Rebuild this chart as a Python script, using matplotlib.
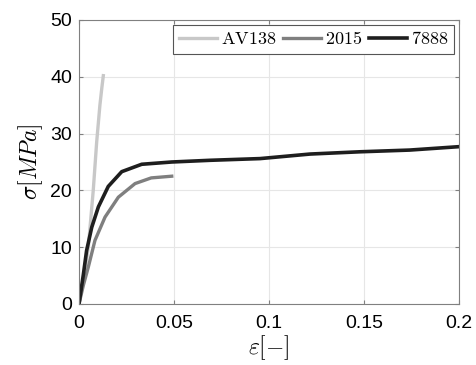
import matplotlib.pyplot as plt
import numpy as np

plt.rcParams['mathtext.fontset'] = 'cm'
plt.rcParams['font.family'] = 'Liberation Sans'

# Curvas tensión-deformación
eps_av138 = [0, 0.0025, 0.0049, 0.0075, 0.0093, 0.0110, 0.0120, 0.0128]
sig_av138 = [0, 4.5, 10.0, 20.0, 28.5, 35.0, 38.0, 40.2]

eps_2015 = [0, 0.0023, 0.0049, 0.0084, 0.0137, 0.0207, 0.0295, 0.0380, 0.0488]
sig_2015 = [0, 3.3, 6.5, 11.2, 15.3, 18.8, 21.2, 22.2, 22.5]

eps_7888 = [0, 0.0023, 0.0040, 0.0067, 0.0102, 0.0154, 0.0225, 0.0330, 0.0488,
            0.069, 0.0953, 0.1216, 0.148, 0.174, 0.2]
sig_7888 = [0, 5.2, 9.4, 13.5, 17.1, 20.7, 23.3, 24.6, 25.0,
            25.3, 25.6, 26.4, 26.8, 27.1, 27.7]

fig = plt.figure(figsize=(4.76, 3.65), dpi=100)
ax = fig.add_axes([79 / 476, 1 - 304 / 365, 380 / 476, 284 / 365])

ax.plot(eps_av138, sig_av138, color='#c8c8c8', linewidth=2.4, label=r'$\mathrm{AV138}$')
ax.plot(eps_2015, sig_2015, color='#7f7f7f', linewidth=2.4, label=r'$\mathrm{2015}$')
ax.plot(eps_7888, sig_7888, color='#1e1e1e', linewidth=2.6, label=r'$\mathrm{7888}$')

ax.set_xlim(0, 0.2)
ax.set_ylim(0, 50)
ax.set_xticks([0, 0.05, 0.1, 0.15, 0.2])
ax.set_xticklabels(['0', '0.05', '0.1', '0.15', '0.2'])
ax.set_yticks(np.arange(0, 51, 10))
ax.tick_params(direction='in', length=3, labelsize=14, color='#808080',
               top=True, right=True)
ax.tick_params(axis='x', pad=8)
ax.tick_params(axis='y', pad=5)
for s in ax.spines.values():
    s.set_color('#808080')
    s.set_linewidth(0.8)
ax.grid(True, color='#e6e6e6', linewidth=0.8)
ax.set_axisbelow(True)

ax.set_xlabel(r'$\varepsilon[-]$', fontsize=17, labelpad=1)
ax.set_ylabel(r'$\sigma[MPa]$', fontsize=17, labelpad=4)

leg = ax.legend(loc='upper right', ncol=3, fontsize=13, handlelength=2.1,
                handletextpad=0.2, columnspacing=0.4, borderpad=0.35,
                fancybox=False, framealpha=1, edgecolor='#555555',
                borderaxespad=0.25)
leg.get_frame().set_linewidth(0.8)

plt.savefig('out.png', dpi=100)
